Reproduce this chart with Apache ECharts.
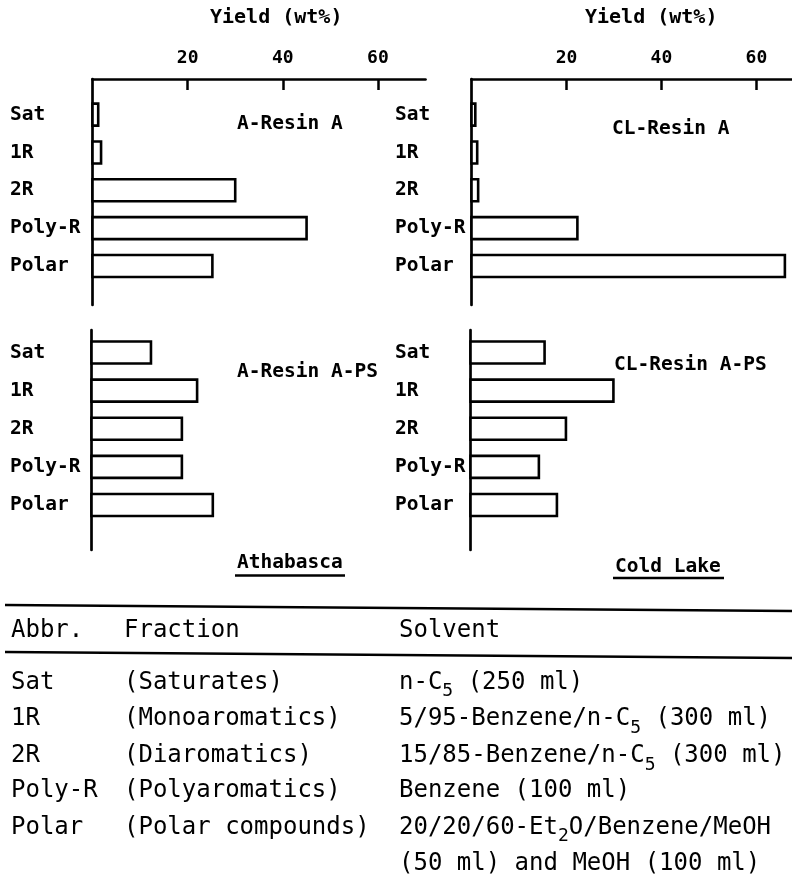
<!DOCTYPE html>
<html><head><meta charset="utf-8">
<script src="https://cdn.jsdelivr.net/npm/echarts@6/dist/echarts.min.js"></script>
<style>html,body{margin:0;padding:0;background:#fff}#c{width:792px;height:884px}</style>
</head><body><div id="c"></div>
<script>
// ---- data ----
const categories = ['Sat', '1R', '2R', 'Poly-R', 'Polar'];
const aResinA = [1.2, 1.8, 30, 45, 25.2];
const aResinAPS = [12.5, 22.2, 19, 19, 25.5];
const clResinA = [0.8, 1.2, 1.4, 22.3, 66];
const clResinAPS = [15.6, 30.1, 20.1, 14.4, 18.2];
const xTickValues = [20, 40, 60];
const panelTitles = ['A-Resin A', 'A-Resin A-PS', 'CL-Resin A', 'CL-Resin A-PS'];
const groupNames = ['Athabasca', 'Cold Lake'];
const axisTitle = 'Yield (wt%)';
const tableHeader = ['Abbr.', 'Fraction', 'Solvent'];
const tableAbbr = ['Sat', '1R', '2R', 'Poly-R', 'Polar'];
const tableFraction = ['(Saturates)', '(Monoaromatics)', '(Diaromatics)', '(Polyaromatics)', '(Polar compounds)'];
const tableSolvent = ['n-C{s|5} (250 ml)', '5/95-Benzene/n-C{s|5} (300 ml)', '15/85-Benzene/n-C{s|5} (300 ml)', 'Benzene (100 ml)', '20/20/60-Et{s|2}O/Benzene/MeOH', '(50 ml) and MeOH (100 ml)'];

// ---- layout ----
const MONO = '"DejaVu Sans Mono", monospace';
const panelValues = [aResinA, aResinAPS, clResinA, clResinAPS];
const grids = [
  {left: 92.5, top: 79, width: 333, height: 226},
  {left: 91.5, top: 330, width: 333, height: 220},
  {left: 471.5, top: 79, width: 320.5, height: 226},
  {left: 470.5, top: 330, width: 320.5, height: 220}
];
const xMax = [70, 70, 67.5, 67.5];
const yRange = [[-0.94, 5.03], [-0.59, 5.18], [-0.94, 5.03], [-0.59, 5.18]];
const labelMargin = [82.5, 81.5, 76.5, 75.5];
const showTopAxis = [true, false, true, false];

const xAxes = grids.map((g, i) => ({
  type: 'value', gridIndex: i, position: 'top', min: 0, max: xMax[i],
  show: showTopAxis[i],
  axisLine: {show: true, onZero: false, lineStyle: {color: '#000', width: 2.7}},
  axisTick: {show: true, inside: true, length: 11, customValues: xTickValues, lineStyle: {color: '#000', width: 2.5}},
  axisLabel: {show: true, customValues: xTickValues, margin: 12, color: '#000', fontFamily: MONO, fontWeight: 'bold', fontSize: 18},
  splitLine: {show: false}
}));

const yAxes = grids.map((g, i) => ({
  type: 'value', gridIndex: i, inverse: true, min: yRange[i][0], max: yRange[i][1],
  axisLine: {show: true, onZero: false, lineStyle: {color: '#000', width: 2.7}},
  axisTick: {show: false},
  splitLine: {show: false},
  axisLabel: {
    show: true, customValues: categories.map((c, k) => k),
    formatter: v => categories[Math.round(v)],
    align: 'left', margin: labelMargin[i], color: '#000',
    fontFamily: MONO, fontWeight: 'bold', fontSize: 19.5
  }
}));

function renderBar(params, api) {
  const v = api.value(0), k = api.value(1);
  const p0 = api.coord([0, k]);
  const p1 = api.coord([v, k]);
  const h = 22;
  return {
    type: 'rect',
    shape: {x: p0[0], y: p0[1] - h / 2, width: p1[0] - p0[0], height: h},
    style: {fill: '#fff', stroke: '#000', lineWidth: 2.6}
  };
}

const series = panelValues.map((vals, i) => ({
  type: 'custom', name: panelTitles[i], xAxisIndex: i, yAxisIndex: i,
  encode: {x: 0, y: 1},
  data: vals.map((v, k) => [v, k]),
  renderItem: renderBar
}));

function txt(x, y, text, size, weight, extra) {
  return {
    type: 'text', x: x, y: y,
    style: Object.assign({text: text, fill: '#000', fontFamily: MONO, fontSize: size, fontWeight: weight, verticalAlign: 'middle', align: 'left'}, extra || {})
  };
}
function line(x1, y1, x2, y2, w) {
  return {type: 'line', shape: {x1: x1, y1: y1, x2: x2, y2: y2}, style: {stroke: '#000', lineWidth: w}};
}

const graphics = [];
graphics.push(txt(210, 18, axisTitle, 20, 'bold'));
graphics.push(txt(585, 18, axisTitle, 20, 'bold'));
const titlePos = [[237, 124], [237, 372], [612, 129], [614, 365]];
panelTitles.forEach((t, i) => graphics.push(txt(titlePos[i][0], titlePos[i][1], t, 19.5, 'bold')));
graphics.push(txt(237, 563, groupNames[0], 19.5, 'bold'));
graphics.push(line(235, 575.5, 345, 575.5, 2.5));
graphics.push(txt(615, 567, groupNames[1], 19.5, 'bold'));
graphics.push(line(613, 578, 724, 578, 2.5));

// table
graphics.push(line(5, 605, 792, 611, 2.6));
graphics.push(line(5, 652, 792, 658, 2.6));
const colX = [11, 124, 399];
tableHeader.forEach((t, i) => graphics.push(txt(colX[i], 631, t, 24, 'normal')));
const rowY = [682.5, 719, 756, 791, 827.5, 864];
const richSub = {s: {fontFamily: MONO, fontSize: 18, lineHeight: 18, padding: [18, 0, 0, 0], verticalAlign: 'top'}};
tableAbbr.forEach((t, i) => graphics.push(txt(colX[0], rowY[i], t, 24, 'normal')));
tableFraction.forEach((t, i) => graphics.push(txt(colX[1], rowY[i], t, 24, 'normal')));
tableSolvent.forEach((t, i) => graphics.push(txt(colX[2], rowY[i], t, 24, 'normal', {lineHeight: 36, rich: richSub})));

const chart = echarts.init(document.getElementById('c'), null, {renderer: 'canvas'});
chart.setOption({
  backgroundColor: '#fff',
  animation: false,
  grid: grids,
  xAxis: xAxes,
  yAxis: yAxes,
  series: series,
  graphic: graphics
});
</script></body></html>
